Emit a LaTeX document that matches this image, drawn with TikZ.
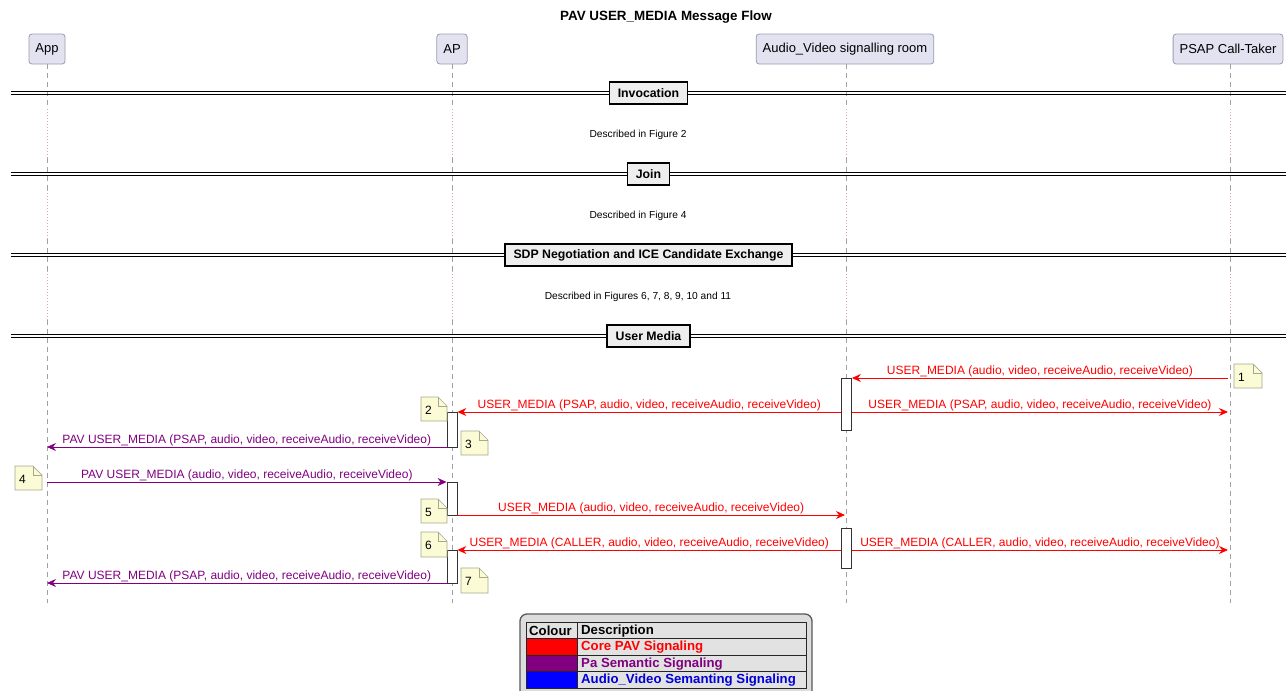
\documentclass[tikz,border=0pt]{standalone}
\usepackage{fontspec}
\setmainfont{Liberation Sans}
\usetikzlibrary{arrows.meta}
\definecolor{pfill}{HTML}{E2E2F0}
\definecolor{pdraw}{HTML}{9C9CB4}
\definecolor{msgred}{HTML}{FF0000}
\definecolor{msgpurple}{HTML}{800080}
\definecolor{msgblue}{HTML}{0000FF}
\definecolor{notefill}{HTML}{FBFBD6}
\definecolor{notedraw}{HTML}{A8A890}
\definecolor{lifegray}{HTML}{A0A0A0}
\definecolor{delaycol}{HTML}{D4A8A8}
\definecolor{divfill}{HTML}{EEEEEE}
\definecolor{legfill}{HTML}{DDDDDD}
\definecolor{cellfill}{HTML}{E2E2E2}
\newcommand\drawnote[6]{%
  \draw[notebody] (#2,#3) -- (#4-9,#3) -- (#4,#3+9) -- (#4,#5) -- (#2,#5) -- cycle;
  \draw[notefold] (#4-9,#3) -- (#4-9,#3+9) -- (#4,#3+9);
  \node[notetext] (#1) at (#2+4,{(#3+#5)/2+1}) {#6};
}
\tikzset{
  part/.style={draw=pdraw, fill=pfill, rounded corners=3pt, minimum height=30pt,
    inner xsep=6.5pt, font=\fontsize{13}{15}\selectfont, line width=0.8pt},
  life/.style={draw=lifegray, dash pattern=on 5pt off 4pt, line width=0.7pt},
  delayline/.style={draw=delaycol, dash pattern=on 1pt off 2pt, line width=0.7pt},
  actbar/.style={draw=black!80, fill=white, line width=0.8pt, minimum width=10pt,
    inner sep=0pt, anchor=north},
  arrowtip/.style={-{Stealth[length=9pt,width=8pt,inset=3pt]}},
  redmsg/.style={draw=msgred, line width=0.9pt, arrowtip},
  purplemsg/.style={draw=msgpurple, line width=0.9pt, arrowtip},
  lbl/.style={font=\fontsize{12}{14}\selectfont, anchor=base, inner sep=0pt, yshift=3.8pt},
  divline/.style={draw=black, line width=0.9pt},
  divbox/.style={draw=black, fill=divfill, line width=1.4pt,
    font=\bfseries\fontsize{12.3}{14}\selectfont, inner xsep=8.5pt, minimum height=22pt},
  delaytext/.style={font=\fontsize{10.2}{12}\selectfont},
  titletext/.style={font=\bfseries\fontsize{13.4}{16}\selectfont},
  notebody/.style={draw=notedraw, fill=notefill, line width=0.7pt},
  notefold/.style={draw=notedraw, line width=0.7pt},
  notetext/.style={font=\fontsize{12}{14}\selectfont, anchor=west, inner sep=0pt},
  legtext/.style={font=\bfseries\fontsize{13.2}{15}\selectfont, anchor=west, inner sep=0pt},
  tabline/.style={draw=black!85, line width=0.8pt},
}
\begin{document}
\begin{tikzpicture}[x=1pt,y=-1pt]
\useasboundingbox (0,0) rectangle (1286,691);
\fill[white] (0,0) rectangle (1286,691);

% title
\node[titletext] (title) at (666,17) {PAV USER\_MEDIA Message Flow};

% participants
\node[part] (pApp) at (47,49) {App};
\node[part] (pAP) at (452,49) {AP};
\node[part] (pAV) at (845,49) {Audio\_Video signalling room};
\node[part] (pPSAP) at (1228,49) {PSAP Call-Taker};

% lifelines
\foreach \p/\x in {pApp/47,pAP/452,pAV/846,pPSAP/1230}{
  \draw[life] (\x,64) -- (\x,109);
  \draw[delayline] (\x,109) -- (\x,158);
  \draw[life] (\x,158) -- (\x,190);
  \draw[delayline] (\x,190) -- (\x,239);
  \draw[life] (\x,239) -- (\x,271);
  \draw[delayline] (\x,271) -- (\x,320);
  \draw[life] (\x,320) -- (\x,603);
}

% dividers
\foreach \y/\t/\n in {93/Invocation/dInv,174/Join/dJoin,255/SDP Negotiation and ICE Candidate Exchange/dSDP,336/User Media/dUM}{
  \draw[divline] (11,\y-1.6) -- (1290,\y-1.6);
  \draw[divline] (11,\y+1.6) -- (1290,\y+1.6);
  \node[divbox] (\n) at (648.5,\y) {\t};
}

% delay texts
\node[delaytext] (delay1) at (638,134.5) {Described in Figure 2};
\node[delaytext] (delay2) at (638,215.5) {Described in Figure 4};
\node[delaytext] (delay3) at (638,296.5) {Described in Figures 6, 7, 8, 9, 10 and 11};

% activation bars
\node[actbar, minimum height=52pt] (avA1) at (846.5,378) {};
\node[actbar, minimum height=40pt] (avA2) at (846.5,528) {};
\node[actbar, minimum height=35pt] (apA1) at (452,412) {};
\node[actbar, minimum height=33pt] (apA2) at (452,482) {};
\node[actbar, minimum height=33pt] (apA3) at (452,550) {};

% messages
\draw[redmsg] (pPSAP.south |- 0,378) -- (avA1.east |- 0,378)
  node[lbl, midway, text=msgred] (l1) {USER\_MEDIA (audio, video, receiveAudio, receiveVideo)};
\draw[redmsg] (avA1.west |- 0,412) -- (apA1.east |- 0,412)
  node[lbl, midway, text=msgred] (l2) {USER\_MEDIA (PSAP, audio, video, receiveAudio, receiveVideo)};
\draw[redmsg] (avA1.east |- 0,412) -- (pPSAP.south |- 0,412)
  node[lbl, midway, text=msgred] (l2b) {USER\_MEDIA (PSAP, audio, video, receiveAudio, receiveVideo)};
\draw[purplemsg] (apA1.west |- 0,447) -- (pApp.south |- 0,447)
  node[lbl, midway, text=msgpurple] (l3) {PAV USER\_MEDIA (PSAP, audio, video, receiveAudio, receiveVideo)};
\draw[purplemsg] (pApp.south |- 0,482) -- (apA2.west |- 0,482)
  node[lbl, midway, text=msgpurple] (l4) {PAV USER\_MEDIA (audio, video, receiveAudio, receiveVideo)};
\draw[redmsg] (apA2.east |- 0,515) -- (pAV.south |- 0,515)
  node[lbl, midway, text=msgred] (l5) {USER\_MEDIA (audio, video, receiveAudio, receiveVideo)};
\draw[redmsg] (avA2.west |- 0,550) -- (apA3.east |- 0,550)
  node[lbl, midway, text=msgred] (l6) {USER\_MEDIA (CALLER, audio, video, receiveAudio, receiveVideo)};
\draw[redmsg] (avA2.east |- 0,550) -- (pPSAP.south |- 0,550)
  node[lbl, midway, text=msgred] (l6b) {USER\_MEDIA (CALLER, audio, video, receiveAudio, receiveVideo)};
\draw[purplemsg] (apA3.west |- 0,583) -- (pApp.south |- 0,583)
  node[lbl, midway, text=msgpurple] (l7) {PAV USER\_MEDIA (PSAP, audio, video, receiveAudio, receiveVideo)};

% notes
\drawnote{n1}{1234}{364}{1262}{388}{1}
\drawnote{n2}{421}{397}{447}{421}{2}
\drawnote{n3}{461}{431}{488}{455}{3}
\drawnote{n4}{15}{466}{42}{490}{4}
\drawnote{n5}{421}{499}{447}{523}{5}
\drawnote{n6}{421}{532}{447}{557}{6}
\drawnote{n7}{461}{568}{488}{593}{7}

% legend
\draw[draw=black!65, fill=legfill, line width=1.3pt, rounded corners=7pt] (520,614) rectangle (812,702);
\fill[cellfill] (526,622) rectangle (806,688);
\fill[msgred] (526,638.5) rectangle (577,655);
\fill[msgpurple] (526,655) rectangle (577,671.5);
\fill[msgblue] (526,671.5) rectangle (577,688);
\draw[tabline] (526,622) rectangle (806,688);
\foreach \y in {638.5,655,671.5}{\draw[tabline] (526,\y) -- (806,\y);}
\draw[tabline] (577,622) -- (577,688);
\node[legtext] (hCol) at (529,631) {Colour};
\node[legtext] (hDesc) at (581,631) {Description};
\node[legtext, text=msgred] (lg1) at (581,647.5) {Core PAV Signaling};
\node[legtext, text=msgpurple] (lg2) at (581,664) {Pa Semantic Signaling};
\node[legtext, text=msgblue!85!black] (lg3) at (581,680.5) {Audio\_Video Semanting Signaling};
\end{tikzpicture}
\end{document}
